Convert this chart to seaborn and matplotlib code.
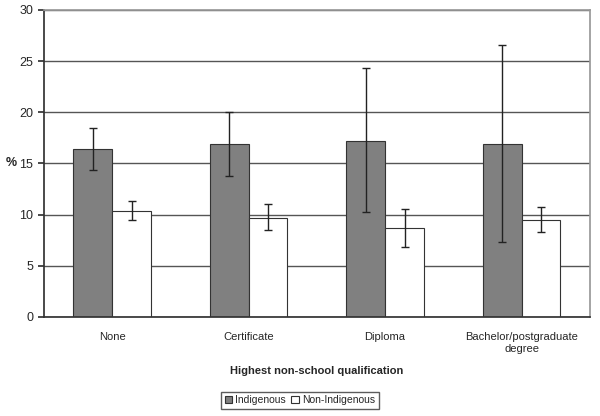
import seaborn as sns
import matplotlib.pyplot as plt
import pandas as pd

sns.set_theme(style="white")
plt.rcParams['font.family'] = ['Liberation Sans', 'DejaVu Sans']

# ── Data ──────────────────────────────────────────────
categories = ["None", "Certificate", "Diploma", "Bachelor/postgraduate\ndegree"]
groups = ["Indigenous", "Non-Indigenous"]
indigenous = [16.4, 16.9, 17.2, 16.9]
indigenous_lo = [14.4, 13.8, 10.3, 7.3]
indigenous_hi = [18.5, 20.0, 24.3, 26.6]
non_indigenous = [10.4, 9.7, 8.7, 9.5]
non_indigenous_lo = [9.5, 8.5, 6.8, 8.3]
non_indigenous_hi = [11.3, 11.0, 10.6, 10.7]

df = pd.DataFrame({
    "qual": categories * 2,
    "group": [groups[0]] * 4 + [groups[1]] * 4,
    "pct": indigenous + non_indigenous,
    "lo": indigenous_lo + non_indigenous_lo,
    "hi": indigenous_hi + non_indigenous_hi,
})

fig = plt.figure(figsize=(6, 4.16), dpi=100)
ax = fig.add_axes([0.073, 0.238, 0.910, 0.738])

ax.set_axisbelow(True)
ax.yaxis.grid(True, color="#555555", linewidth=1)

sns.barplot(data=df, x="qual", y="pct", hue="group", order=categories,
            hue_order=groups, palette=["#808080", "#ffffff"], width=0.57,
            errorbar=None, edgecolor="#333333", linewidth=0.8, ax=ax)

# error bars placed at the bar centres seaborn computed
for bars, g in zip(ax.containers, groups):
    sub = df[df["group"] == g].set_index("qual").loc[categories]
    xs = [b.get_x() + b.get_width() / 2 for b in bars]
    ax.errorbar(xs, sub["pct"], yerr=[sub["pct"] - sub["lo"], sub["hi"] - sub["pct"]],
                fmt="none", ecolor="#222222", elinewidth=1, capsize=3, capthick=1)

ax.set_ylim(0, 30)
ax.set_xlim(-0.5, 3.5)
ax.set_yticks(range(0, 31, 5))
ax.set_xticks([-0.5, 0.5, 1.5, 2.5, 3.5], minor=True)
ax.tick_params(axis="x", which="major", length=0, pad=11, labelsize=8)
ax.tick_params(axis="x", which="minor", length=4, color="#333333", direction="out")
ax.tick_params(axis="y", length=4, color="#333333", direction="out", labelsize=9, left=True)

for s in ["top", "right"]:
    ax.spines[s].set_color("#999999")
for s in ["left", "bottom"]:
    ax.spines[s].set_color("#333333")

ax.set_xlabel("Highest non-school qualification", fontweight="bold", fontsize=8, labelpad=9)
ax.set_ylabel("%", fontweight="bold", fontsize=9, rotation=0, va="center", ha="center")
ax.yaxis.set_label_coords(-0.06, 0.5)

ax.get_legend().remove()
handles, labels = ax.get_legend_handles_labels()
fig.legend(handles, labels, loc="center", bbox_to_anchor=(0.5, 0.038), ncol=2,
           frameon=True, fancybox=False, edgecolor="#333333", fontsize=7.5,
           handlelength=0.7, handleheight=0.7, handletextpad=0.3,
           columnspacing=0.5, borderpad=0.35)

plt.savefig("out.png", dpi=100)
